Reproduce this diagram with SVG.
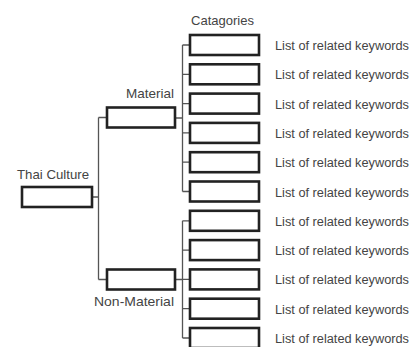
<svg xmlns="http://www.w3.org/2000/svg" width="411" height="347" viewBox="0 0 411 347">
  <style>
    .box { fill: #ffffff; stroke: #222222; stroke-width: 2.6; }
    .wire { fill: none; stroke: #555555; stroke-width: 1.3; }
    .lbl { font-family: "Liberation Sans", Arial, sans-serif; font-size: 13px; fill: #444444; }
    .kw { font-family: "Liberation Sans", Arial, sans-serif; font-size: 12.5px; fill: #444444; }
  </style>
  <rect width="411" height="347" fill="#ffffff"/>

  <!-- connectors -->
  <g id="connectors" class="wire">
    <path d="M92 197 H98.5 M98.5 117.5 V279.5 M98.5 117.5 H107 M98.5 279.5 H107"/>
    <path d="M175 118 H182.5 M182.5 45 V191.5 M182.5 45 H190 M182.5 74.3 H190 M182.5 103.6 H190 M182.5 132.9 H190 M182.5 162.2 H190 M182.5 191.5 H190"/>
    <path d="M175 279.5 H182.5 M182.5 220.8 V338 M182.5 220.8 H190 M182.5 250.1 H190 M182.5 279.4 H190 M182.5 308.7 H190 M182.5 338 H190"/>
  </g>

  <!-- root -->
  <g id="thai-culture">
    <text class="lbl" x="17" y="179" textLength="72" lengthAdjust="spacingAndGlyphs">Thai Culture</text>
    <rect class="box" x="22" y="187" width="70" height="20"/>
  </g>

  <!-- branches -->
  <g id="material">
    <text class="lbl" x="126" y="98" textLength="48" lengthAdjust="spacingAndGlyphs">Material</text>
    <rect class="box" x="107" y="107.5" width="68" height="20"/>
  </g>
  <g id="non-material">
    <rect class="box" x="107" y="269.5" width="68" height="20"/>
    <text class="lbl" x="94" y="306" textLength="80" lengthAdjust="spacingAndGlyphs">Non-Material</text>
  </g>

  <text class="lbl" x="191" y="25" textLength="63" lengthAdjust="spacingAndGlyphs">Catagories</text>

  <!-- category boxes with keyword lists -->
  <g id="cat-1"><rect class="box" x="190" y="35" width="69" height="20"/><text class="kw" x="275" y="50" textLength="134" lengthAdjust="spacingAndGlyphs">List of related keywords</text></g>
  <g id="cat-2"><rect class="box" x="190" y="64.3" width="69" height="20"/><text class="kw" x="275" y="79.3" textLength="134" lengthAdjust="spacingAndGlyphs">List of related keywords</text></g>
  <g id="cat-3"><rect class="box" x="190" y="93.6" width="69" height="20"/><text class="kw" x="275" y="108.6" textLength="134" lengthAdjust="spacingAndGlyphs">List of related keywords</text></g>
  <g id="cat-4"><rect class="box" x="190" y="122.9" width="69" height="20"/><text class="kw" x="275" y="137.9" textLength="134" lengthAdjust="spacingAndGlyphs">List of related keywords</text></g>
  <g id="cat-5"><rect class="box" x="190" y="152.2" width="69" height="20"/><text class="kw" x="275" y="167.2" textLength="134" lengthAdjust="spacingAndGlyphs">List of related keywords</text></g>
  <g id="cat-6"><rect class="box" x="190" y="181.5" width="69" height="20"/><text class="kw" x="275" y="196.5" textLength="134" lengthAdjust="spacingAndGlyphs">List of related keywords</text></g>
  <g id="cat-7"><rect class="box" x="190" y="210.8" width="69" height="20"/><text class="kw" x="275" y="225.8" textLength="134" lengthAdjust="spacingAndGlyphs">List of related keywords</text></g>
  <g id="cat-8"><rect class="box" x="190" y="240.1" width="69" height="20"/><text class="kw" x="275" y="255.1" textLength="134" lengthAdjust="spacingAndGlyphs">List of related keywords</text></g>
  <g id="cat-9"><rect class="box" x="190" y="269.4" width="69" height="20"/><text class="kw" x="275" y="284.4" textLength="134" lengthAdjust="spacingAndGlyphs">List of related keywords</text></g>
  <g id="cat-10"><rect class="box" x="190" y="298.7" width="69" height="20"/><text class="kw" x="275" y="313.7" textLength="134" lengthAdjust="spacingAndGlyphs">List of related keywords</text></g>
  <g id="cat-11"><rect class="box" x="190" y="328" width="69" height="20"/><text class="kw" x="275" y="343" textLength="134" lengthAdjust="spacingAndGlyphs">List of related keywords</text></g>
</svg>
